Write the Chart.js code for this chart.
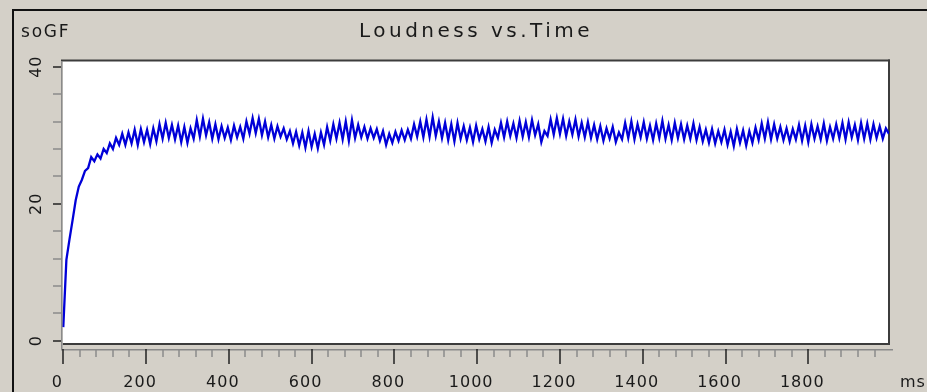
<!DOCTYPE html>
<html><head><meta charset="utf-8">
<script src="https://cdn.jsdelivr.net/npm/chart.js@4.4.1/dist/chart.umd.min.js"></script>
<style>html,body{margin:0;padding:0;background:#d4d0c8;overflow:hidden}canvas{display:block}</style>
</head><body>
<canvas id="c" width="927" height="392"></canvas>
<script>
const chartTitle = 'Loudness vs.Time';
const yUnitLabel = 'soGF';
const xUnitLabel = 'ms';
const sampleStepMs = 7.5;
const loudness = [
  2.0, 11.8, 14.8, 17.6, 20.5, 22.5, 23.5, 24.8, 25.2, 26.8,
  26.2, 27.2, 26.6, 28.0, 27.4, 28.8, 28.0, 29.6, 28.6, 30.2,
  28.6, 30.4, 28.8, 30.8, 28.6, 30.9, 29.0, 30.8, 28.7, 31.0,
  29.1, 31.6, 29.5, 31.8, 29.6, 31.5, 29.4, 31.4, 29.0, 31.2,
  28.9, 31.0, 29.5, 32.2, 29.8, 32.4, 30.0, 31.9, 29.5, 31.6,
  29.4, 31.3, 29.6, 31.1, 29.3, 31.4, 29.7, 31.2, 29.5, 32.0,
  30.2, 32.5, 30.3, 32.4, 30.0, 32.0, 29.7, 31.5, 29.5, 31.3,
  29.8, 31.0, 29.4, 30.6, 28.8, 30.5, 28.5, 30.4, 28.2, 30.6,
  28.3, 30.2, 28.1, 30.4, 28.6, 31.2, 29.2, 31.6, 29.5, 31.8,
  29.4, 32.0, 29.2, 32.2, 29.6, 31.5, 29.7, 31.2, 29.5, 31.0,
  29.6, 30.9, 29.2, 30.6, 28.6, 30.2, 28.9, 30.5, 29.2, 30.7,
  29.3, 30.8, 29.5, 31.6, 29.8, 32.0, 29.7, 32.3, 29.8, 32.6,
  29.9, 32.0, 29.6, 31.8, 29.3, 31.6, 29.1, 31.8, 29.5, 31.3,
  29.3, 31.1, 29.0, 31.4, 29.4, 30.9, 29.1, 31.2, 28.9, 30.8,
  29.6, 31.8, 29.7, 32.0, 29.9, 31.7, 29.6, 32.1, 29.8, 31.9,
  29.7, 32.2, 30.0, 31.6, 29.0, 30.6, 29.9, 32.3, 30.1, 32.5,
  30.2, 32.4, 29.9, 32.0, 30.1, 32.3, 29.8, 31.8, 29.7, 31.9,
  29.6, 31.5, 29.4, 31.3, 29.2, 31.0, 29.5, 31.2, 29.0, 30.4,
  29.4, 31.8, 29.6, 32.0, 29.4, 31.6, 29.7, 31.9, 29.5, 31.4,
  29.3, 31.7, 29.6, 32.1, 29.5, 31.5, 29.3, 31.8, 29.6, 31.6,
  29.4, 31.4, 29.5, 31.7, 29.3, 31.2, 29.1, 30.8, 28.9, 30.9,
  28.8, 30.6, 29.0, 30.8, 28.6, 30.5, 28.4, 30.9, 28.9, 30.7,
  28.5, 30.6, 28.9, 31.1, 29.3, 31.7, 29.5, 31.9, 29.4, 31.6,
  29.5, 31.2, 29.3, 31.0, 29.1, 30.9, 29.4, 31.5, 29.2, 31.4,
  29.0, 31.6, 29.5, 31.3, 29.4, 31.7, 29.2, 31.2, 29.5, 31.6,
  29.6, 31.8, 29.4, 31.9, 29.7, 31.5, 29.3, 31.8, 29.5, 31.7,
  29.4, 31.6, 29.6, 31.3, 29.5, 31.0, 30.2
];
const xMajorTicks = [0, 200, 400, 600, 800, 1000, 1200, 1400, 1600, 1800];
const xTickValues = [0, 40, 80, 120, 160, 200, 240, 280, 320, 360, 400, 440, 480, 520, 560, 600, 640, 680, 720, 760,
  800, 840, 880, 920, 960, 1000, 1040, 1080, 1120, 1160, 1200, 1240, 1280, 1320, 1360, 1400, 1440, 1480, 1520, 1560,
  1600, 1640, 1680, 1720, 1760, 1800, 1840, 1880, 1920, 1960];
const yMajorTicks = [0, 20, 40];
const yTickValues = [0, 4, 8, 12, 16, 20, 24, 28, 32, 36, 40];
const xRange = [-5.5, 1995];
const yRange = [-1.2, 40.83];

const points = loudness.map((v, i) => ({ x: i * sampleStepMs, y: v }));
const TEXT = '#1a1a1a';
const FONT = "'DejaVu Sans', sans-serif";

const framePlugin = {
  id: 'frame',
  beforeDraw(chart) {
    const ctx = chart.ctx;
    ctx.save();
    ctx.fillStyle = '#d4d0c8';
    ctx.fillRect(0, 0, chart.width, chart.height);
    ctx.fillStyle = '#111';
    ctx.fillRect(13, 9, chart.width - 13, 2);
    ctx.fillRect(12, 9, 2, chart.height - 9);
    ctx.restore();
  },
  beforeDatasetsDraw(chart) {
    const ctx = chart.ctx, a = chart.chartArea;
    const xs = chart.scales.x;
    const left = xs.getPixelForValue(0) - 0.5;
    const top = a.top, right = a.right, bottom = a.bottom - 5;
    ctx.save();
    ctx.fillStyle = '#ffffff';
    ctx.fillRect(left, top, right - left, bottom - top);
    ctx.fillStyle = '#3c3c3c';
    ctx.fillRect(a.left, top - 1.5, right - a.left + 1, 2);
    ctx.fillRect(right - 1, top - 1.5, 2, bottom - top + 2);
    ctx.fillRect(left, bottom - 1, right - left + 1, 2);
    ctx.restore();
  },
  afterDraw(chart) {
    const ctx = chart.ctx, a = chart.chartArea;
    const xs = chart.scales.x, ys = chart.scales.y;
    ctx.save();
    ctx.fillStyle = '#8a8a8a';
    ctx.fillRect(a.left, a.bottom, a.right - a.left + 4, 1.5);
    ctx.fillRect(a.left, a.top, 1.5, a.bottom - a.top + 1);
    xs.ticks.forEach(t => {
      const px = Math.round(xs.getPixelForValue(t.value));
      const major = xMajorTicks.includes(t.value);
      ctx.fillStyle = major ? '#222' : '#8a8a8a';
      ctx.fillRect(px - 0.75, a.bottom, 1.5, major ? 15 : 8);
    });
    ys.ticks.forEach(t => {
      const py = Math.round(ys.getPixelForValue(t.value));
      const major = yMajorTicks.includes(t.value);
      ctx.fillStyle = major ? '#222' : '#8a8a8a';
      ctx.fillRect(a.left - 8, py - 0.75, 8, 1.5);
    });
    ctx.fillStyle = TEXT;
    ctx.font = "17px " + FONT;
    ctx.textBaseline = 'middle';
    ctx.textAlign = 'left';
    ctx.letterSpacing = '1.8px';
    ctx.fillText(yUnitLabel, 21, 33);
    ctx.font = "16px " + FONT;
    ctx.letterSpacing = '1px';
    ctx.fillText(xUnitLabel, 900, 383);
    ctx.restore();
  }
};

const chart = new Chart(document.getElementById('c'), {
  type: 'line',
  data: {
    datasets: [{
      data: points,
      borderColor: '#0000d8',
      borderWidth: 2.3,
      pointRadius: 0,
      tension: 0,
      fill: false
    }]
  },
  options: {
    responsive: false,
    animation: false,
    devicePixelRatio: 1,
    layout: { padding: { left: 25, right: 0, top: 0, bottom: 0 } },
    plugins: {
      legend: { display: false },
      tooltip: { enabled: false },
      title: {
        display: true,
        text: chartTitle,
        color: TEXT,
        font: { family: FONT, size: 20, weight: 'normal', lineHeight: 1.2 },
        padding: { top: 20, bottom: 17 }
      }
    },
    scales: {
      x: {
        type: 'linear',
        position: 'bottom',
        min: xRange[0],
        max: xRange[1],
        afterBuildTicks: s => { s.ticks = xTickValues.map(v => ({ value: v })); },
        afterFit: s => { s.height = 43; },
        grid: { display: false, drawTicks: false },
        border: { display: false },
        ticks: {
          autoSkip: false,
          maxRotation: 0,
          minRotation: 0,
          padding: 24,
          labelOffset: -6,
          color: TEXT,
          font: { family: FONT, size: 16 },
          callback: v => xMajorTicks.includes(v) ? String(v) : ''
        }
      },
      y: {
        type: 'linear',
        position: 'left',
        min: yRange[0],
        max: yRange[1],
        afterBuildTicks: s => { s.ticks = yTickValues.map(v => ({ value: v })); },
        afterFit: s => { s.width = 36; },
        grid: { display: false, drawTicks: false },
        border: { display: false },
        ticks: {
          autoSkip: false,
          minRotation: 90,
          maxRotation: 90,
          crossAlign: 'center',
          padding: 14,
          color: TEXT,
          font: { family: FONT, size: 16 },
          callback: v => yMajorTicks.includes(v) ? String(v) : ''
        }
      },
      yPad: {
        type: 'linear',
        position: 'right',
        display: true,
        afterFit: s => { s.width = 38; },
        grid: { display: false, drawTicks: false },
        border: { display: false },
        ticks: { display: false }
      }
    }
  },
  plugins: [framePlugin]
});

function withSpacing(obj, method, spacing) {
  const orig = obj[method].bind(obj);
  obj[method] = function (...args) {
    const c = chart.ctx;
    c.save();
    c.letterSpacing = spacing;
    orig(...args);
    c.restore();
  };
}
if (chart.titleBlock) withSpacing(chart.titleBlock, 'draw', '3.5px');
withSpacing(chart.scales.x, 'drawLabels', '1px');
withSpacing(chart.scales.y, 'drawLabels', '1px');
chart.draw();
</script>
</body></html>
